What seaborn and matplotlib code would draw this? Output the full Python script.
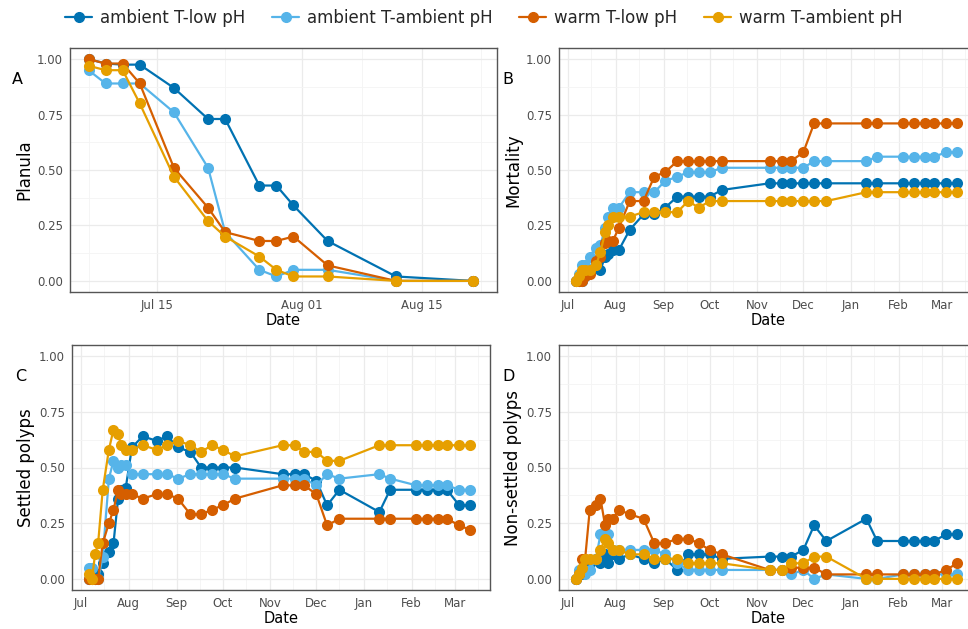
import matplotlib
matplotlib.use("Agg")
import matplotlib.pyplot as plt
import matplotlib.dates as mdates
import seaborn as sns
import pandas as pd
import numpy as np

sns.set_theme(style="white")
plt.rcParams['font.family'] = ['DejaVu Sans']

groups = ["ambient T-low pH", "ambient T-ambient pH", "warm T-low pH", "warm T-ambient pH"]
colors = ["#0072B2", "#56B4E9", "#D55E00", "#E69F00"]

datesA = ["2021-07-07", "2021-07-09", "2021-07-11", "2021-07-13", "2021-07-17", "2021-07-21", "2021-07-23",
          "2021-07-27", "2021-07-29", "2021-07-31", "2021-08-04", "2021-08-12", "2021-08-21"]
planula = {
    "ambient T-low pH": [1.0, 0.98, 0.975, 0.975, 0.87, 0.73, 0.73, 0.43, 0.43, 0.34, 0.18, 0.02, 0.0],
    "ambient T-ambient pH": [0.95, 0.89, 0.89, 0.89, 0.76, 0.51, 0.22, 0.05, 0.02, 0.05, 0.05, 0.0, 0.0],
    "warm T-low pH": [1.0, 0.98, 0.98, 0.89, 0.51, 0.33, 0.22, 0.18, 0.18, 0.2, 0.07, 0.0, 0.0],
    "warm T-ambient pH": [0.97, 0.95, 0.95, 0.8, 0.47, 0.27, 0.2, 0.11, 0.05, 0.02, 0.02, 0.0, 0.0],
}

datesL = ["2021-07-06", "2021-07-08", "2021-07-10", "2021-07-12", "2021-07-15", "2021-07-19", "2021-07-22",
          "2021-07-25", "2021-07-27", "2021-07-30", "2021-08-03", "2021-08-10", "2021-08-19", "2021-08-26",
          "2021-09-02", "2021-09-10", "2021-09-17", "2021-09-24", "2021-10-01", "2021-10-09", "2021-11-09",
          "2021-11-17", "2021-11-23", "2021-12-01", "2021-12-08", "2021-12-16", "2022-01-11", "2022-01-18",
          "2022-02-04", "2022-02-11", "2022-02-18", "2022-02-24", "2022-03-04", "2022-03-11"]
mortality = {
    "ambient T-low pH": [0, 0, 0, 0.02, 0.04, 0.07, 0.05, 0.11, 0.12, 0.14, 0.14, 0.23, 0.30, 0.30, 0.33, 0.38, 0.38,
                         0.38, 0.38, 0.41, 0.44, 0.44, 0.44, 0.44, 0.44, 0.44, 0.44, 0.44, 0.44, 0.44, 0.44, 0.44, 0.44, 0.44],
    "ambient T-ambient pH": [0, 0.03, 0.07, 0.07, 0.11, 0.15, 0.16, 0.24, 0.29, 0.33, 0.33, 0.40, 0.40, 0.40, 0.45, 0.47,
                             0.49, 0.49, 0.49, 0.51, 0.51, 0.51, 0.51, 0.51, 0.54, 0.54, 0.54, 0.56, 0.56, 0.56, 0.56, 0.56, 0.58, 0.58],
    "warm T-low pH": [0, 0, 0, 0.02, 0.03, 0.09, 0.11, 0.17, 0.18, 0.18, 0.24, 0.36, 0.36, 0.47, 0.49, 0.54, 0.54,
                      0.54, 0.54, 0.54, 0.54, 0.54, 0.54, 0.58, 0.71, 0.71, 0.71, 0.71, 0.71, 0.71, 0.71, 0.71, 0.71, 0.71],
    "warm T-ambient pH": [0, 0.02, 0.05, 0.05, 0.05, 0.07, 0.13, 0.22, 0.25, 0.29, 0.29, 0.29, 0.31, 0.31, 0.31, 0.31,
                          0.36, 0.33, 0.36, 0.36, 0.36, 0.36, 0.36, 0.36, 0.36, 0.36, 0.40, 0.40, 0.40, 0.40, 0.40, 0.40, 0.40, 0.40],
}
settled = {
    "ambient T-low pH": [0, 0, 0, 0.02, 0.07, 0.12, 0.16, 0.36, 0.40, 0.41, 0.59, 0.64, 0.62, 0.64, 0.59, 0.57, 0.50,
                         0.50, 0.50, 0.50, 0.47, 0.47, 0.47, 0.44, 0.33, 0.40, 0.30, 0.40, 0.40, 0.40, 0.40, 0.40, 0.33, 0.33],
    "ambient T-ambient pH": [0.05, 0.05, 0.0, 0.0, 0.1, 0.45, 0.53, 0.50, 0.51, 0.51, 0.47, 0.47, 0.47, 0.47, 0.45, 0.47,
                             0.47, 0.47, 0.47, 0.45, 0.45, 0.45, 0.45, 0.42, 0.47, 0.45, 0.47, 0.45, 0.42, 0.42, 0.42, 0.42, 0.40, 0.40],
    "warm T-low pH": [0, 0, 0, 0, 0.16, 0.25, 0.31, 0.40, 0.38, 0.38, 0.38, 0.36, 0.38, 0.38, 0.36, 0.29, 0.29, 0.31,
                      0.33, 0.36, 0.42, 0.42, 0.42, 0.38, 0.24, 0.27, 0.27, 0.27, 0.27, 0.27, 0.27, 0.27, 0.24, 0.22],
    "warm T-ambient pH": [0.02, 0.0, 0.11, 0.16, 0.40, 0.58, 0.67, 0.65, 0.60, 0.58, 0.58, 0.60, 0.58, 0.60, 0.62, 0.60,
                          0.57, 0.60, 0.58, 0.55, 0.60, 0.60, 0.57, 0.57, 0.53, 0.53, 0.60, 0.60, 0.60, 0.60, 0.60, 0.60, 0.60, 0.60],
}
nonsettled = {
    "ambient T-low pH": [0, 0.02, 0.02, 0.04, 0.07, 0.09, 0.07, 0.11, 0.07, 0.11, 0.09, 0.11, 0.09, 0.07, 0.09, 0.04,
                         0.11, 0.11, 0.11, 0.09, 0.10, 0.10, 0.10, 0.13, 0.24, 0.17, 0.27, 0.17, 0.17, 0.17, 0.17, 0.17, 0.20, 0.20],
    "ambient T-ambient pH": [0, 0.04, 0.04, 0.02, 0.04, 0.09, 0.20, 0.20, 0.20, 0.13, 0.13, 0.13, 0.13, 0.13, 0.11, 0.07,
                             0.04, 0.04, 0.04, 0.04, 0.04, 0.04, 0.02, 0.04, 0.0, 0.02, 0.0, 0.0, 0.02, 0.02, 0.02, 0.02, 0.02, 0.02],
    "warm T-low pH": [0, 0.02, 0.09, 0.09, 0.31, 0.33, 0.36, 0.24, 0.27, 0.27, 0.31, 0.29, 0.27, 0.16, 0.16, 0.18, 0.18,
                      0.16, 0.13, 0.11, 0.04, 0.04, 0.05, 0.05, 0.05, 0.02, 0.02, 0.02, 0.02, 0.02, 0.02, 0.02, 0.04, 0.07],
    "warm T-ambient pH": [0, 0.02, 0.05, 0.09, 0.09, 0.09, 0.13, 0.18, 0.16, 0.13, 0.13, 0.11, 0.11, 0.09, 0.09, 0.09,
                          0.07, 0.07, 0.07, 0.07, 0.04, 0.04, 0.07, 0.07, 0.10, 0.10, 0.0, 0.0, 0.0, 0.0, 0.0, 0.0, 0.0, 0.0],
}

def long(dates, d):
    rows = []
    for g in groups:
        for dt, v in zip(dates, d[g]):
            rows.append((pd.Timestamp(dt), v, g))
    return pd.DataFrame(rows, columns=["Date", "value", "group"])

W, H = 968, 629
fig = plt.figure(figsize=(W / 100, H / 100), dpi=100)

def ax_px(l, t, r, b):
    return fig.add_axes([l / W, 1 - b / H, (r - l) / W, (b - t) / H])

panels = [
    (ax_px(70, 48, 497, 292), datesA, planula, "Planula", "A", ("2021-07-04 20:00", "2021-08-23 20:00"), True),
    (ax_px(559, 48, 977, 292), datesL, mortality, "Mortality", "B", ("2021-06-25", "2022-03-24"), False),
    (ax_px(72, 345, 490, 590), datesL, settled, "Settled polyps", "C", ("2021-06-25", "2022-03-24"), False),
    (ax_px(559, 345, 977, 590), datesL, nonsettled, "Non-settled polyps", "D", ("2021-06-25", "2022-03-24"), False),
]

for ax, dates, data, ylab, letter, xl, isA in panels:
    df = long(dates, data)
    sns.lineplot(data=df, x="Date", y="value", hue="group", hue_order=groups, palette=colors,
                 marker="o", markersize=8, markeredgewidth=0, linewidth=1.6, ax=ax, legend=False)
    ax.set_xlim(pd.Timestamp(xl[0]), pd.Timestamp(xl[1]))
    ax.set_ylim(-0.05, 1.05)
    ax.set_yticks([0, 0.25, 0.5, 0.75, 1.0])
    ax.set_yticklabels(["0.00", "0.25", "0.50", "0.75", "1.00"])
    ax.yaxis.set_minor_locator(matplotlib.ticker.FixedLocator([0.125, 0.375, 0.625, 0.875]))
    if isA:
        ax.set_xticks([pd.Timestamp("2021-07-15"), pd.Timestamp("2021-08-01"), pd.Timestamp("2021-08-15")])
        ax.xaxis.set_major_formatter(mdates.DateFormatter("%b %d"))
        ax.xaxis.set_minor_locator(matplotlib.ticker.FixedLocator(
            [mdates.date2num(pd.Timestamp(s)) for s in ["2021-07-07", "2021-07-23", "2021-08-08", "2021-08-22"]]))
    else:
        ax.xaxis.set_major_locator(mdates.MonthLocator())
        ax.xaxis.set_major_formatter(mdates.DateFormatter("%b"))
        ax.xaxis.set_minor_locator(mdates.MonthLocator(bymonthday=16))
    ax.grid(True, which="major", color="#ebebeb", linewidth=0.9)
    ax.grid(True, which="minor", color="#f4f4f4", linewidth=0.6)
    ax.set_axisbelow(True)
    for s in ax.spines.values():
        s.set_color("#555555")
        s.set_linewidth(1.0)
    ax.tick_params(axis="both", which="major", labelsize=8.5, colors="#4d4d4d", length=3, width=0.8, pad=2)
    ax.tick_params(axis="both", which="minor", length=0)
    ax.set_xlabel("Date", fontsize=10.5, color="black", labelpad=1)
    ax.set_ylabel(ylab, fontsize=12, color="black", labelpad=3)
    ax.text(-0.135, 0.87, letter, transform=ax.transAxes, fontsize=11.5, color="black", ha="left", va="center")

handles = [matplotlib.lines.Line2D([], [], color=c, marker="o", markersize=7, linewidth=1.6) for c in colors]
fig.legend(handles, groups, loc="center", bbox_to_anchor=(0.5, 1 - 18 / H), ncol=4, frameon=False,
           fontsize=12, handlelength=1.6, columnspacing=1.6, handletextpad=0.5)

fig.savefig("out.png", dpi=100, facecolor="white")
